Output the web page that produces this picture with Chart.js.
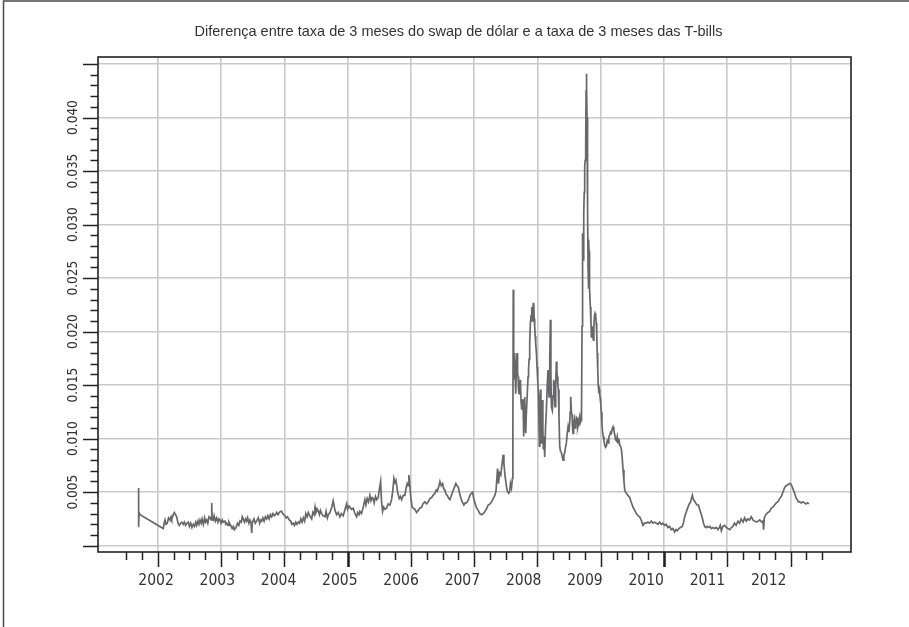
<!DOCTYPE html>
<html>
<head>
<meta charset="utf-8">
<script src="https://cdn.jsdelivr.net/npm/chart.js@4.4.1/dist/chart.umd.min.js"></script>
<style>
  html, body { margin: 0; padding: 0; background: #ffffff; }
  canvas { display: block; }
</style>
</head>
<body>
<canvas id="chart" width="909" height="627"></canvas>
<script>
// Spread between the 3-month dollar swap rate and the 3-month T-bill rate
const titleText = 'Diferença entre taxa de 3 meses do swap de dólar e a taxa de 3 meses das T-bills';

// Observation dates (decimal years)
const dates = [
  2001.690, 2001.695, 2001.699, 2001.704, 2001.720,
  2002.087, 2002.100, 2002.114, 2002.130, 2002.150, 2002.170, 2002.193, 2002.210, 2002.220, 2002.245,
  2002.261, 2002.280, 2002.298, 2002.320, 2002.340, 2002.360, 2002.380, 2002.403, 2002.420, 2002.440,
  2002.460, 2002.482, 2002.500, 2002.520, 2002.540, 2002.561, 2002.580, 2002.600, 2002.615, 2002.635,
  2002.650, 2002.667, 2002.685, 2002.700, 2002.720, 2002.740, 2002.755, 2002.773, 2002.790, 2002.810,
  2002.825, 2002.845, 2002.852, 2002.858, 2002.877, 2002.890, 2002.910, 2002.930, 2002.950, 2002.965,
  2002.983, 2003.000, 2003.020, 2003.035, 2003.060, 2003.075, 2003.089, 2003.110, 2003.125, 2003.141,
  2003.160, 2003.175, 2003.193, 2003.210, 2003.236, 2003.260, 2003.280, 2003.299, 2003.320, 2003.335,
  2003.351, 2003.370, 2003.390, 2003.405, 2003.420, 2003.440, 2003.457, 2003.475, 2003.484, 2003.495,
  2003.520, 2003.540, 2003.560, 2003.588, 2003.610, 2003.625, 2003.642, 2003.660, 2003.680, 2003.700,
  2003.721, 2003.740, 2003.760, 2003.780, 2003.800, 2003.820, 2003.840, 2003.860, 2003.879, 2003.900,
  2003.920, 2003.940, 2003.958, 2003.975, 2003.990, 2004.010, 2004.030, 2004.050, 2004.078, 2004.100,
  2004.120, 2004.142, 2004.160, 2004.180, 2004.200, 2004.221, 2004.240, 2004.260, 2004.280, 2004.300,
  2004.320, 2004.340, 2004.360, 2004.379, 2004.400, 2004.432, 2004.450, 2004.470, 2004.485, 2004.500,
  2004.520, 2004.537, 2004.555, 2004.570, 2004.590, 2004.610, 2004.643, 2004.660, 2004.680, 2004.695,
  2004.720, 2004.750, 2004.772, 2004.800, 2004.826, 2004.850, 2004.878, 2004.900, 2004.930, 2004.960,
  2004.984, 2005.000, 2005.020, 2005.036, 2005.060, 2005.089, 2005.110, 2005.142, 2005.160, 2005.180,
  2005.194, 2005.220, 2005.247, 2005.273, 2005.290, 2005.310, 2005.330, 2005.352, 2005.370, 2005.390,
  2005.405, 2005.420, 2005.440, 2005.460, 2005.484, 2005.500, 2005.522, 2005.535, 2005.553, 2005.570,
  2005.590, 2005.616, 2005.640, 2005.669, 2005.695, 2005.715, 2005.732, 2005.750, 2005.765, 2005.790,
  2005.816, 2005.835, 2005.853, 2005.880, 2005.905, 2005.925, 2005.942, 2005.955, 2005.969, 2005.985,
  2006.000, 2006.020, 2006.040, 2006.064, 2006.090, 2006.116, 2006.140, 2006.170, 2006.190, 2006.222,
  2006.250, 2006.274, 2006.300, 2006.328, 2006.350, 2006.380, 2006.400, 2006.416, 2006.440, 2006.459,
  2006.480, 2006.501, 2006.520, 2006.537, 2006.555, 2006.574, 2006.600, 2006.617, 2006.640, 2006.659,
  2006.685, 2006.711, 2006.730, 2006.748, 2006.770, 2006.802, 2006.820, 2006.838, 2006.860, 2006.881,
  2006.910, 2006.933, 2006.955, 2006.976, 2006.990, 2007.012, 2007.040, 2007.064, 2007.090, 2007.118,
  2007.145, 2007.170, 2007.200, 2007.222, 2007.250, 2007.275, 2007.300, 2007.327, 2007.345, 2007.370,
  2007.385, 2007.400, 2007.420, 2007.432, 2007.445, 2007.458, 2007.470, 2007.485, 2007.500, 2007.511,
  2007.525, 2007.545, 2007.560, 2007.574, 2007.590, 2007.605, 2007.612, 2007.618,
  2007.625, 2007.633, 2007.641, 2007.649, 2007.657, 2007.667, 2007.678, 2007.686, 2007.694, 2007.702,
  2007.710, 2007.720, 2007.731, 2007.741, 2007.752, 2007.762, 2007.773, 2007.783, 2007.791, 2007.799,
  2007.807, 2007.815, 2007.825, 2007.838, 2007.852, 2007.860, 2007.868, 2007.878, 2007.889, 2007.900,
  2007.910, 2007.918, 2007.926, 2007.934, 2007.941, 2007.949, 2007.957, 2007.965, 2007.973, 2007.984,
  2007.994, 2008.004, 2008.015, 2008.023, 2008.031, 2008.039, 2008.047, 2008.055, 2008.063, 2008.070,
  2008.078, 2008.086, 2008.094, 2008.104, 2008.115, 2008.128, 2008.142, 2008.155, 2008.168, 2008.176,
  2008.184, 2008.195, 2008.205, 2008.213, 2008.221, 2008.229, 2008.236, 2008.247, 2008.257, 2008.268,
  2008.278, 2008.289, 2008.300, 2008.308, 2008.315, 2008.323, 2008.331, 2008.341, 2008.352, 2008.365,
  2008.379, 2008.392, 2008.405, 2008.418, 2008.431, 2008.445, 2008.458, 2008.471, 2008.484, 2008.497,
  2008.510, 2008.518, 2008.526, 2008.537, 2008.547, 2008.555, 2008.563, 2008.573, 2008.584, 2008.594,
  2008.605, 2008.615, 2008.626, 2008.636, 2008.647, 2008.657, 2008.668, 2008.678, 2008.689, 2008.697,
  2008.705, 2008.711, 2008.716, 2008.726, 2008.732, 2008.740, 2008.747, 2008.755, 2008.763, 2008.769,
  2008.774, 2008.779, 2008.784, 2008.790, 2008.795, 2008.800, 2008.806, 2008.811, 2008.816, 2008.821,
  2008.826, 2008.837, 2008.845, 2008.853, 2008.861, 2008.868, 2008.876, 2008.884, 2008.892, 2008.900,
  2008.910, 2008.921, 2008.929, 2008.937, 2008.945, 2008.953, 2008.961, 2008.969, 2008.977, 2008.984,
  2008.992, 2009.000, 2009.010, 2009.020, 2009.030, 2009.040, 2009.052, 2009.063, 2009.076, 2009.090,
  2009.103, 2009.116, 2009.129, 2009.142, 2009.155, 2009.169, 2009.182, 2009.195, 2009.208, 2009.221,
  2009.235, 2009.248, 2009.261, 2009.274, 2009.287, 2009.300, 2009.313, 2009.327, 2009.340, 2009.353,
  2009.367, 2009.380, 2009.393, 2009.406,
  2009.430, 2009.458, 2009.480, 2009.511, 2009.530, 2009.564, 2009.590, 2009.616, 2009.640, 2009.668,
  2009.690, 2009.720, 2009.747, 2009.770, 2009.800, 2009.825, 2009.853, 2009.880, 2009.905, 2009.930,
  2009.959, 2009.980, 2010.010, 2010.035, 2010.063, 2010.090, 2010.115, 2010.140, 2010.169, 2010.190,
  2010.210, 2010.235, 2010.260, 2010.290, 2010.310, 2010.327, 2010.350, 2010.379, 2010.400, 2010.420,
  2010.435, 2010.449, 2010.460, 2010.480, 2010.500, 2010.520, 2010.545, 2010.564, 2010.585, 2010.610,
  2010.625, 2010.643, 2010.660, 2010.680, 2010.700, 2010.725, 2010.749, 2010.770, 2010.800, 2010.825,
  2010.853, 2010.875, 2010.890, 2010.907, 2010.930, 2010.960, 2010.986, 2011.010, 2011.040, 2011.065,
  2011.090, 2011.115, 2011.140, 2011.170, 2011.196, 2011.220, 2011.250, 2011.275, 2011.300, 2011.325,
  2011.350, 2011.380, 2011.406, 2011.430, 2011.460, 2011.490, 2011.512, 2011.545, 2011.565, 2011.575,
  2011.585, 2011.610, 2011.643, 2011.670, 2011.695, 2011.720, 2011.749, 2011.775, 2011.800, 2011.830,
  2011.855, 2011.880, 2011.905, 2011.930, 2011.959, 2011.980, 2012.000, 2012.020, 2012.045, 2012.065,
  2012.085, 2012.105, 2012.125, 2012.144, 2012.170, 2012.195, 2012.220, 2012.245, 2012.270, 2012.291
];

// Spread values
const spread = [
  0.0018, 0.0054, 0.0019, 0.0031, 0.0029,
  0.0016, 0.0021, 0.0024, 0.0020, 0.0021, 0.0026, 0.0024, 0.0027, 0.0025, 0.0029,
  0.0031, 0.0029, 0.0027, 0.0021, 0.0019, 0.0021, 0.0022, 0.0020, 0.0022, 0.0019,
  0.0021, 0.0022, 0.0018, 0.0021, 0.0017, 0.0020, 0.0018, 0.0022, 0.0019, 0.0023,
  0.0020, 0.0024, 0.0021, 0.0025, 0.0020, 0.0026, 0.0022, 0.0024, 0.0021, 0.0027,
  0.0026, 0.0024, 0.0040, 0.0025, 0.0024, 0.0028, 0.0023, 0.0026, 0.0022, 0.0025,
  0.0024, 0.0021, 0.0024, 0.0022, 0.0023, 0.0020, 0.0021, 0.0019, 0.0022, 0.0020,
  0.0018, 0.0016, 0.0018, 0.0015, 0.0017, 0.0021, 0.0019, 0.0023, 0.0022, 0.0027,
  0.0025, 0.0022, 0.0025, 0.0023, 0.0026, 0.0021, 0.0024, 0.0021, 0.0012, 0.0022,
  0.0025, 0.0021, 0.0023, 0.0026, 0.0021, 0.0024, 0.0023, 0.0026, 0.0023, 0.0027,
  0.0025, 0.0028, 0.0025, 0.0029, 0.0027, 0.0030, 0.0028, 0.0029, 0.0031, 0.0029,
  0.0031, 0.0032, 0.0032, 0.0030, 0.0029, 0.0028, 0.0026, 0.0027, 0.0024, 0.0023,
  0.0020, 0.0021, 0.0019, 0.0022, 0.0020, 0.0022, 0.0021, 0.0025, 0.0022, 0.0026,
  0.0023, 0.0030, 0.0027, 0.0031, 0.0028, 0.0025, 0.0031, 0.0029, 0.0036, 0.0031,
  0.0034, 0.0032, 0.0029, 0.0033, 0.0030, 0.0028, 0.0027, 0.0032, 0.0026, 0.0029,
  0.0031, 0.0036, 0.0042, 0.0033, 0.0029, 0.0031, 0.0027, 0.0030, 0.0028, 0.0034,
  0.0039, 0.0034, 0.0037, 0.0036, 0.0034, 0.0035, 0.0031, 0.0027, 0.0031, 0.0029,
  0.0032, 0.0030, 0.0036, 0.0043, 0.0038, 0.0044, 0.0041, 0.0047, 0.0042, 0.0045,
  0.0044, 0.0040, 0.0046, 0.0043, 0.0045, 0.0052, 0.0060, 0.0042, 0.0032, 0.0036,
  0.0034, 0.0035, 0.0039, 0.0038, 0.0043, 0.0052, 0.0063, 0.0059, 0.0061, 0.0050,
  0.0044, 0.0046, 0.0043, 0.0047, 0.0047, 0.0054, 0.0058, 0.0056, 0.0066, 0.0055,
  0.0045, 0.0036, 0.0035, 0.0034, 0.0031, 0.0033, 0.0035, 0.0036, 0.0039, 0.0041,
  0.0039, 0.0041, 0.0044, 0.0045, 0.0047, 0.0049, 0.0052, 0.0051, 0.0055, 0.0060,
  0.0056, 0.0058, 0.0053, 0.0052, 0.0048, 0.0047, 0.0044, 0.0043, 0.0047, 0.0050,
  0.0054, 0.0058, 0.0056, 0.0055, 0.0049, 0.0042, 0.0040, 0.0038, 0.0040, 0.0040,
  0.0043, 0.0047, 0.0049, 0.0050, 0.0045, 0.0040, 0.0035, 0.0033, 0.0030, 0.0029,
  0.0030, 0.0032, 0.0035, 0.0038, 0.0039, 0.0041, 0.0044, 0.0047, 0.0051, 0.0072,
  0.0058, 0.0068, 0.0066, 0.0072, 0.0078, 0.0085, 0.0077, 0.0067, 0.0060, 0.0055,
  0.0051, 0.0049, 0.0050, 0.0058, 0.0054, 0.0063, 0.0105, 0.0239,
  0.0155, 0.0170, 0.0180, 0.0160, 0.0142, 0.0165, 0.0180, 0.0162, 0.0158, 0.0145,
  0.0142, 0.0150, 0.0155, 0.0135, 0.0127, 0.0136, 0.0136, 0.0102, 0.0130, 0.0139,
  0.0118, 0.0105, 0.0124, 0.0140, 0.0158, 0.0165, 0.0174, 0.0190, 0.0208, 0.0215,
  0.0223, 0.0210, 0.0217, 0.0226, 0.0227, 0.0212, 0.0205, 0.0196, 0.0189, 0.0180,
  0.0167, 0.0155, 0.0142, 0.0120, 0.0093, 0.0120, 0.0146, 0.0118, 0.0096, 0.0120,
  0.0136, 0.0110, 0.0090, 0.0102, 0.0083, 0.0110, 0.0127, 0.0150, 0.0164, 0.0150,
  0.0139, 0.0175, 0.0211, 0.0160, 0.0130, 0.0128, 0.0127, 0.0140, 0.0155, 0.0150,
  0.0130, 0.0150, 0.0172, 0.0162, 0.0158, 0.0150, 0.0146, 0.0120, 0.0093, 0.0088,
  0.0087, 0.0083, 0.0080, 0.0084, 0.0087, 0.0092, 0.0096, 0.0105, 0.0111, 0.0106,
  0.0115, 0.0125, 0.0139, 0.0125, 0.0122, 0.0110, 0.0105, 0.0112, 0.0117, 0.0110,
  0.0113, 0.0120, 0.0119, 0.0110, 0.0113, 0.0118, 0.0121, 0.0115, 0.0117, 0.0125,
  0.0205, 0.0292, 0.0270, 0.0267, 0.0310, 0.0330, 0.0354, 0.0360, 0.0373, 0.0425,
  0.0441, 0.0429, 0.0400, 0.0360, 0.0315, 0.0261, 0.0240, 0.0286, 0.0275, 0.0251,
  0.0240, 0.0223, 0.0210, 0.0195, 0.0200, 0.0205, 0.0196, 0.0192, 0.0205, 0.0214,
  0.0217, 0.0215, 0.0208, 0.0200, 0.0180, 0.0165, 0.0150, 0.0145, 0.0146, 0.0142,
  0.0138, 0.0133, 0.0125, 0.0113, 0.0106, 0.0102, 0.0098, 0.0094, 0.0092, 0.0093,
  0.0098, 0.0096, 0.0102, 0.0103, 0.0106, 0.0105, 0.0109, 0.0111, 0.0108, 0.0104,
  0.0099, 0.0098, 0.0102, 0.0096, 0.0100, 0.0094, 0.0093, 0.0090, 0.0082, 0.0071,
  0.0061, 0.0052, 0.0050, 0.0049,
  0.0047, 0.0045, 0.0041, 0.0036, 0.0034, 0.0030, 0.0028, 0.0027, 0.0024, 0.0019,
  0.0021, 0.0021, 0.0022, 0.0021, 0.0023, 0.0021, 0.0022, 0.0021, 0.0020, 0.0022,
  0.0020, 0.0021, 0.0019, 0.0020, 0.0017, 0.0018, 0.0015, 0.0016, 0.0013, 0.0015,
  0.0014, 0.0016, 0.0017, 0.0018, 0.0022, 0.0027, 0.0031, 0.0036, 0.0039, 0.0041,
  0.0044, 0.0047, 0.0044, 0.0042, 0.0040, 0.0038, 0.0038, 0.0034, 0.0030, 0.0025,
  0.0021, 0.0018, 0.0017, 0.0018, 0.0017, 0.0018, 0.0016, 0.0017, 0.0016, 0.0017,
  0.0015, 0.0017, 0.0019, 0.0014, 0.0018, 0.0019, 0.0017, 0.0016, 0.0015, 0.0017,
  0.0018, 0.0021, 0.0019, 0.0023, 0.0021, 0.0025, 0.0022, 0.0026, 0.0023, 0.0025,
  0.0024, 0.0027, 0.0024, 0.0023, 0.0022, 0.0023, 0.0024, 0.0022, 0.0023, 0.0015,
  0.0026, 0.0029, 0.0031, 0.0032, 0.0035, 0.0036, 0.0038, 0.0040, 0.0041, 0.0044,
  0.0046, 0.0050, 0.0054, 0.0056, 0.0057, 0.0058, 0.0058, 0.0056, 0.0052, 0.0049,
  0.0045, 0.0043, 0.0041, 0.0041, 0.0040, 0.0041, 0.0040, 0.0039, 0.0040, 0.0039
];

// Axis ticks and labels
const yearTicks = [2002, 2003, 2004, 2005, 2006, 2007, 2008, 2009, 2010, 2011, 2012];
const yearLabels = ['2002', '2003', '2004', '2005', '2006', '2007', '2008', '2009', '2010', '2011', '2012'];
const yTicks = [0, 0.005, 0.010, 0.015, 0.020, 0.025, 0.030, 0.035, 0.040, 0.045];
const yTickLabels = ['', '0.005', '0.010', '0.015', '0.020', '0.025', '0.030', '0.035', '0.040', ''];
const xBoldTicks = [2005, 2010];

// Quarterly tick marks along the time axis, thousandth marks along the value axis
const xQuarterTicks = [];
for (let q = 2001.5; q <= 2012.5 + 1e-9; q += 0.25) xQuarterTicks.push(+q.toFixed(2));
const yMinorTicks = [];
for (let k = 0; k <= 45; k++) yMinorTicks.push(k / 1000);

const FONT_NARROW = "'Liberation Sans Narrow', 'DejaVu Sans Condensed', 'Liberation Sans', sans-serif";
const FONT_TITLE = "'Liberation Sans', 'DejaVu Sans', sans-serif";
const INK = '#222222';
const TEXT = '#333333';
const GRID = '#c9c9c9';

const points = dates.map((d, i) => ({ x: d, y: spread[i] }));

// Box around the plot, tick marks and the page frame
const axisMarks = {
  id: 'axisMarks',
  afterDraw(chart) {
    const { ctx, chartArea: a } = chart;
    const xs = chart.scales.x, ys = chart.scales.y;
    ctx.save();
    ctx.strokeStyle = INK;
    ctx.lineCap = 'butt';

    ctx.lineWidth = 1.6;
    ctx.strokeRect(a.left, a.top, a.right - a.left, a.bottom - a.top);

    xQuarterTicks.forEach(v => {
      const px = Math.round(xs.getPixelForValue(v)) + 0.5;
      const major = Number.isInteger(v);
      ctx.lineWidth = xBoldTicks.includes(v) ? 2.6 : 1.5;
      ctx.beginPath();
      ctx.moveTo(px, a.bottom);
      ctx.lineTo(px, a.bottom + (major ? 15 : 8));
      ctx.stroke();
    });

    yMinorTicks.forEach((v, k) => {
      const py = Math.round(ys.getPixelForValue(v)) + 0.5;
      const major = k % 5 === 0;
      ctx.lineWidth = 1.5;
      ctx.beginPath();
      ctx.moveTo(a.left, py);
      ctx.lineTo(a.left - (major ? 15 : 7.5), py);
      ctx.stroke();
    });

    // page frame (left and top edges)
    ctx.strokeStyle = '#4a4a4a';
    ctx.lineWidth = 1.5;
    ctx.beginPath();
    ctx.moveTo(3.5, chart.height);
    ctx.lineTo(3.5, 1);
    ctx.lineTo(chart.width, 1);
    ctx.stroke();
    ctx.restore();
  }
};

new Chart(document.getElementById('chart').getContext('2d'), {
  type: 'line',
  data: {
    datasets: [{
      data: points,
      borderColor: '#68686c',
      borderWidth: 1.7,
      pointRadius: 0,
      tension: 0,
      fill: false,
      xAxisID: 'x',
      yAxisID: 'y'
    }]
  },
  options: {
    responsive: false,
    animation: false,
    devicePixelRatio: 1,
    layout: { padding: { left: 8, right: 0, top: 0, bottom: 0 } },
    plugins: {
      legend: { display: false },
      tooltip: { enabled: false },
      title: {
        display: true,
        text: titleText,
        color: TEXT,
        font: { family: FONT_TITLE, size: 14.5, weight: 'normal', lineHeight: 1.2 },
        padding: { top: 23, bottom: 16.6 }
      }
    },
    scales: {
      x: {
        type: 'linear',
        position: 'bottom',
        bounds: 'data',
        min: 2001.055,
        max: 2012.956,
        afterBuildTicks: s => { s.ticks = yearTicks.map(v => ({ value: v })); },
        ticks: { display: false },
        grid: { color: GRID, lineWidth: 1.6, drawTicks: false },
        border: { display: false },
        afterFit: s => { s.height = 0; }
      },
      xLabels: {
        type: 'linear',
        position: 'bottom',
        bounds: 'data',
        min: 2001.053,
        max: 2013.343,
        afterBuildTicks: s => { s.ticks = yearTicks.map(v => ({ value: v })); },
        ticks: {
          callback: (v, i) => yearLabels[i],
          color: TEXT,
          font: { family: FONT_NARROW, size: 15.5 },
          padding: 19.2,
          autoSkip: false,
          minRotation: 0,
          maxRotation: 0
        },
        grid: { display: false, drawTicks: false },
        border: { display: false },
        afterFit: s => { s.height = 75; }
      },
      y: {
        type: 'linear',
        position: 'left',
        bounds: 'data',
        min: -0.000589,
        max: 0.045655,
        afterBuildTicks: s => { s.ticks = yTicks.map(v => ({ value: v })); },
        ticks: {
          callback: (v, i) => yTickLabels[i],
          color: TEXT,
          font: { family: FONT_NARROW, size: 13.5 },
          minRotation: 90,
          maxRotation: 90,
          crossAlign: 'center',
          padding: 6.7,
          autoSkip: false
        },
        grid: { color: GRID, lineWidth: 1.6, drawTicks: false },
        border: { display: false },
        afterFit: s => { s.width = 90; }
      },
      yRight: {
        type: 'linear',
        position: 'right',
        min: 0,
        max: 1,
        ticks: { display: false },
        grid: { display: false, drawTicks: false },
        border: { display: false },
        afterFit: s => { s.width = 58; }
      }
    }
  },
  plugins: [axisMarks]
});
</script>
</body>
</html>
